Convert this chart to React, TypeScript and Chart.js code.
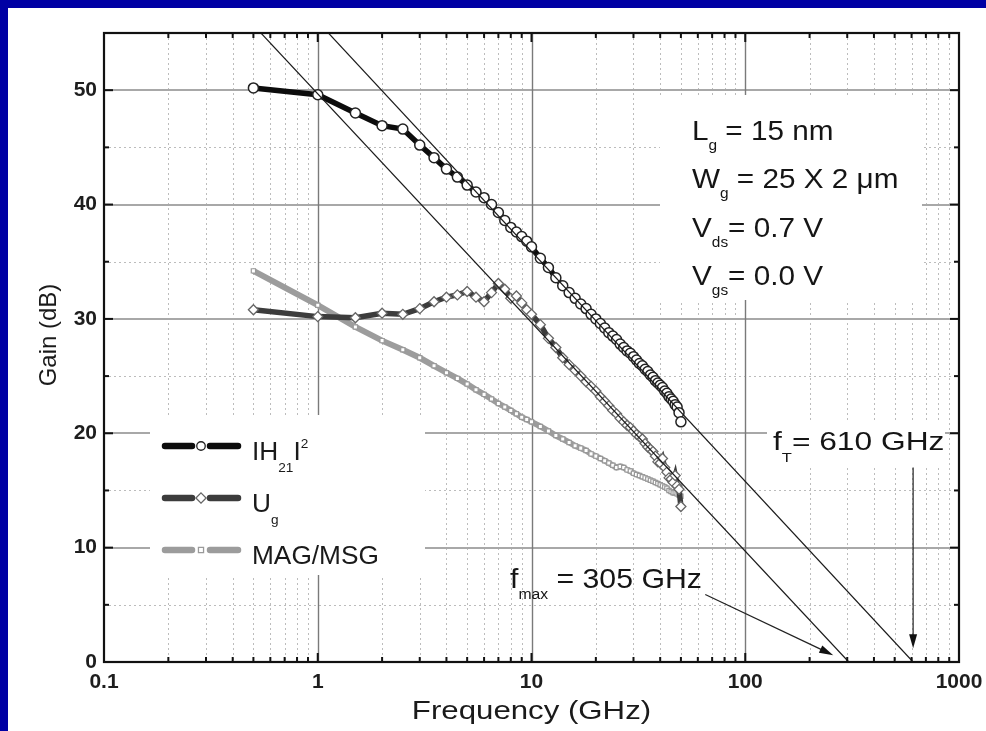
import React, { useEffect, useRef } from 'react';
import { Chart, registerables } from 'chart.js';

Chart.register(...registerables);

// ---------------- data ----------------
const frequencies = [
  0.5, 1, 1.5, 2, 2.5, 3, 3.5, 4, 4.5, 5, 5.5, 6, 6.5, 7, 7.5, 8, 8.5, 9, 9.5, 10,
  11, 12, 13, 14, 15, 16, 17, 18, 19, 20, 21, 22, 23, 24, 25, 26, 27, 28, 29, 30,
  31, 32, 33, 34, 35, 36, 37, 38, 39, 40, 41, 42, 43, 44, 45, 46, 47, 48, 49, 50,
];

const h21 = [
  50.2, 49.6, 48.0, 46.9, 46.6, 45.2, 44.1, 43.1, 42.4, 41.7, 41.1, 40.6, 40.0, 39.3, 38.6, 38.0, 37.6, 37.2, 36.8, 36.3,
  35.3, 34.5, 33.6, 32.9, 32.3, 31.8, 31.3, 30.9, 30.4, 30.0, 29.6, 29.2, 28.8, 28.5, 28.2, 27.8, 27.5, 27.2, 27.0, 26.7,
  26.4, 26.1, 25.9, 25.6, 25.4, 25.1, 24.9, 24.6, 24.4, 24.2, 24.0, 23.7, 23.5, 23.2, 23.0, 22.8, 22.5, 22.3, 21.8, 21.0,
];

const ug = [
  30.8, 30.2, 30.1, 30.5, 30.4, 30.9, 31.5, 31.9, 32.1, 32.4, 31.9, 31.5, 32.3, 33.1, 32.6, 31.8, 32.0, 31.4, 30.8, 30.4,
  29.5, 28.3, 27.5, 26.6, 26.0, 25.5, 25.0, 24.5, 24.1, 23.7, 23.2, 22.8, 22.4, 22.0, 21.7, 21.3, 21.0, 20.7, 20.5, 20.2,
  19.9, 19.7, 19.5, 19.1, 18.8, 18.6, 18.4, 18.0, 17.5, 17.4, 17.8, 17.0, 16.6, 16.1, 16.0, 15.7, 16.3, 15.4, 15.1, 13.6,
];

const mag = [
  34.2, 31.2, 29.3, 28.1, 27.3, 26.6, 25.9, 25.3, 24.8, 24.3, 23.8, 23.4, 23.0, 22.6, 22.3, 22.0, 21.7, 21.4, 21.2, 21.0,
  20.6, 20.2, 19.8, 19.5, 19.2, 18.9, 18.7, 18.5, 18.2, 18.0, 17.8, 17.6, 17.4, 17.2, 17.0, 17.1, 17.0, 16.8, 16.7, 16.5,
  16.4, 16.3, 16.2, 16.1, 16.0, 15.9, 15.8, 15.7, 15.6, 15.5, 15.4, 15.3, 15.2, 15.0, 14.9, 14.8, 14.8, 14.7, 14.6, 14.5,
];

// -20 dB/decade extrapolation lines
const ftLineX = [1, 610];
const ftLineY = [56.0, 0];
const fmaxLineX = [0.5, 305];
const fmaxLineY = [55.7, 0];

// arrows [from, to] in data coordinates (GHz, dB)
const fmaxArrowX = [65, 258];
const fmaxArrowY = [5.9, 0.6];
const ftArrowX = [610, 610];
const ftArrowY = [17.0, 1.2];

const xTickValues = [0.1, 1, 10, 100, 1000];
const yTickValues = [0, 10, 20, 30, 40, 50];
const xMinorDecades = [0.1, 1, 10, 100];
const xMinorMultipliers = [2, 3, 4, 5, 6, 7, 8, 9];
const xMajorGrid = [1, 10, 100];
const yMajorGrid = [10, 20, 30, 40, 50];
const yMinorGrid = [5, 15, 25, 35, 45];

const seriesLabels = ['|H21|²', 'Ug', 'MAG/MSG'];
const xTitle = 'Frequency (GHz)';
const yTitle = 'Gain (dB)';

type Part = { t: string; k?: 'sub' | 'sup' };

const legendTexts: Part[][] = [
  [{ t: 'IH' }, { t: '21', k: 'sub' }, { t: 'I' }, { t: '2', k: 'sup' }],
  [{ t: 'U' }, { t: 'g', k: 'sub' }],
  [{ t: 'MAG/MSG' }],
];

const deviceTexts: Part[][] = [
  [{ t: 'L' }, { t: 'g', k: 'sub' }, { t: ' = 15 nm' }],
  [{ t: 'W' }, { t: 'g', k: 'sub' }, { t: ' = 25 X 2 μm' }],
  [{ t: 'V' }, { t: 'ds', k: 'sub' }, { t: '= 0.7 V' }],
  [{ t: 'V' }, { t: 'gs', k: 'sub' }, { t: '= 0.0 V' }],
];

const ftText: Part[] = [{ t: 'f' }, { t: 'T', k: 'sub' }, { t: '= 610 GHz' }];
const fmaxText: Part[] = [{ t: 'f' }, { t: 'max', k: 'sub' }, { t: ' = 305 GHz' }];

const FONT = '"Liberation Sans", Arial, Helvetica, sans-serif';

function drawRich(
  ctx: CanvasRenderingContext2D,
  parts: Part[],
  x: number,
  y: number,
  size: number,
  sx: number,
  color: string,
  subDy = 0.4,
) {
  ctx.save();
  ctx.translate(x, y);
  ctx.scale(sx, 1);
  ctx.fillStyle = color;
  ctx.textBaseline = 'alphabetic';
  ctx.textAlign = 'left';
  let cx = 0;
  for (const p of parts) {
    const s = p.k ? size * 0.52 : size;
    ctx.font = `${s}px ${FONT}`;
    const dy = p.k === 'sub' ? size * subDy : p.k === 'sup' ? -size * 0.5 : 0;
    ctx.fillText(p.t, cx, dy);
    cx += ctx.measureText(p.t).width;
  }
  ctx.restore();
}

function drawMarker(ctx: CanvasRenderingContext2D, style: string, x: number, y: number, r: number) {
  ctx.beginPath();
  if (style === 'circle') {
    ctx.arc(x, y, r, 0, Math.PI * 2);
  } else if (style === 'rectRot') {
    ctx.moveTo(x, y - r * 1.2);
    ctx.lineTo(x + r * 1.2, y);
    ctx.lineTo(x, y + r * 1.2);
    ctx.lineTo(x - r * 1.2, y);
    ctx.closePath();
  } else {
    ctx.rect(x - r, y - r, r * 2, r * 2);
  }
  ctx.fill();
  ctx.stroke();
}

function arrow(ctx: CanvasRenderingContext2D, x1: number, y1: number, x2: number, y2: number) {
  const ang = Math.atan2(y2 - y1, x2 - x1);
  const len = 14;
  const w = 4;
  ctx.beginPath();
  ctx.moveTo(x1, y1);
  ctx.lineTo(x2 - Math.cos(ang) * len * 0.8, y2 - Math.sin(ang) * len * 0.8);
  ctx.stroke();
  ctx.beginPath();
  ctx.moveTo(x2, y2);
  ctx.lineTo(x2 - Math.cos(ang) * len + Math.sin(ang) * w, y2 - Math.sin(ang) * len - Math.cos(ang) * w);
  ctx.lineTo(x2 - Math.cos(ang) * len - Math.sin(ang) * w, y2 - Math.sin(ang) * len + Math.cos(ang) * w);
  ctx.closePath();
  ctx.fill();
}

const paperPlugin = {
  id: 'paper',
  beforeDraw(chart: any) {
    const { ctx, width, height } = chart;
    ctx.save();
    ctx.fillStyle = '#ffffff';
    ctx.fillRect(0, 0, width, height);
    ctx.restore();
  },
  beforeDatasetsDraw(chart: any) {
    const { ctx, chartArea: a, scales } = chart;
    const xs = scales.x;
    const ys = scales.y;
    ctx.save();
    ctx.beginPath();
    ctx.rect(a.left, a.top, a.right - a.left, a.bottom - a.top);
    ctx.clip();

    // minor dotted grid
    ctx.strokeStyle = '#bcbcbc';
    ctx.lineWidth = 1;
    ctx.setLineDash([2, 3]);
    for (const d of xMinorDecades) {
      for (const m of xMinorMultipliers) {
        const px = Math.round(xs.getPixelForValue(d * m)) + 0.5;
        ctx.beginPath();
        ctx.moveTo(px, a.top);
        ctx.lineTo(px, a.bottom);
        ctx.stroke();
      }
    }
    for (const v of yMinorGrid) {
      const py = Math.round(ys.getPixelForValue(v)) + 0.5;
      ctx.beginPath();
      ctx.moveTo(a.left, py);
      ctx.lineTo(a.right, py);
      ctx.stroke();
    }
    // major solid grid
    ctx.setLineDash([]);
    ctx.strokeStyle = '#a8a8a8';
    ctx.lineWidth = 2;
    for (const v of yMajorGrid) {
      const py = Math.round(ys.getPixelForValue(v));
      ctx.beginPath();
      ctx.moveTo(a.left, py);
      ctx.lineTo(a.right, py);
      ctx.stroke();
    }
    ctx.strokeStyle = '#7a7a7a';
    ctx.lineWidth = 1.4;
    for (const v of xMajorGrid) {
      const px = Math.round(xs.getPixelForValue(v)) + 0.5;
      ctx.beginPath();
      ctx.moveTo(px, a.top);
      ctx.lineTo(px, a.bottom);
      ctx.stroke();
    }
    // white backgrounds of legend and text boxes
    ctx.fillStyle = '#ffffff';
    ctx.fillRect(142, 407, 275, 160);
    ctx.fillRect(652, 87, 262, 205);
    ctx.fillRect(759, 414, 178, 44);
    ctx.restore();
  },
  afterDatasetsDraw(chart: any) {
    const { ctx, chartArea: a, scales } = chart;
    const xs = scales.x;
    const ys = scales.y;
    ctx.save();

    // inward ticks
    ctx.strokeStyle = '#111';
    ctx.lineWidth = 2;
    const tick = (x1: number, y1: number, x2: number, y2: number) => {
      ctx.beginPath();
      ctx.moveTo(x1, y1);
      ctx.lineTo(x2, y2);
      ctx.stroke();
    };
    for (const d of xMinorDecades) {
      for (const m of xMinorMultipliers) {
        const px = xs.getPixelForValue(d * m);
        tick(px, a.bottom, px, a.bottom - 5);
        tick(px, a.top, px, a.top + 5);
      }
    }
    for (const v of xMajorGrid) {
      const px = xs.getPixelForValue(v);
      tick(px, a.bottom, px, a.bottom - 9);
      tick(px, a.top, px, a.top + 9);
    }
    for (const v of yMinorGrid) {
      const py = ys.getPixelForValue(v);
      tick(a.left, py, a.left + 5, py);
      tick(a.right, py, a.right - 5, py);
    }
    for (const v of yMajorGrid) {
      const py = ys.getPixelForValue(v);
      tick(a.left, py, a.left + 9, py);
      tick(a.right, py, a.right - 9, py);
    }
    // frame
    ctx.lineWidth = 2.2;
    ctx.strokeRect(a.left, a.top, a.right - a.left, a.bottom - a.top);

    // arrows
    ctx.strokeStyle = '#222';
    ctx.fillStyle = '#111';
    ctx.lineWidth = 1.2;
    arrow(
      ctx,
      xs.getPixelForValue(fmaxArrowX[0]), ys.getPixelForValue(fmaxArrowY[0]),
      xs.getPixelForValue(fmaxArrowX[1]), ys.getPixelForValue(fmaxArrowY[1]),
    );
    arrow(
      ctx,
      xs.getPixelForValue(ftArrowX[0]), ys.getPixelForValue(ftArrowY[0]),
      xs.getPixelForValue(ftArrowX[1]), ys.getPixelForValue(ftArrowY[1]),
    );

    // annotations
    drawRich(ctx, ftText, 765, 442, 26, 1.22, '#151515', 0.46);
    drawRich(ctx, fmaxText, 502, 580, 28, 1.08, '#151515', 0.38);
    const rowY = [132, 180, 229, 277];
    deviceTexts.forEach((parts, i) => drawRich(ctx, parts, 684, rowY[i], 27, 1.1, '#151515', 0.36));

    // legend
    const legendRows = [438, 490, 542];
    const dsets = chart.data.datasets.slice(2);
    dsets.forEach((ds: any, i: number) => {
      const y = legendRows[i];
      ctx.strokeStyle = ds.borderColor;
      ctx.lineWidth = 6.5;
      ctx.lineCap = 'round';
      ctx.beginPath();
      ctx.moveTo(157, y);
      ctx.lineTo(184, y);
      ctx.moveTo(202, y);
      ctx.lineTo(230, y);
      ctx.stroke();
      ctx.lineCap = 'butt';
      ctx.fillStyle = '#fff';
      ctx.strokeStyle = ds.pointBorderColor;
      ctx.lineWidth = 1.3;
      drawMarker(ctx, ds.pointStyle, 193, y, ds.pointRadius * 0.85);
      drawRich(ctx, legendTexts[i], 244, y + 14, 25, 1.05, '#1a1a1a', 0.48);
    });

    // axis titles
    ctx.fillStyle = '#1a1a1a';
    ctx.textAlign = 'center';
    ctx.textBaseline = 'alphabetic';
    ctx.save();
    ctx.translate(a.left + (a.right - a.left) / 2, 711);
    ctx.scale(1.2, 1);
    ctx.font = `26px ${FONT}`;
    ctx.fillText(xTitle, 0, 0);
    ctx.restore();

    ctx.save();
    ctx.translate(48, 327);
    ctx.rotate(-Math.PI / 2);
    ctx.font = `24px ${FONT}`;
    ctx.fillText(yTitle, 0, 0);
    ctx.restore();

    ctx.restore();
  },
};

export default function App() {
  const ref = useRef<HTMLCanvasElement | null>(null);

  useEffect(() => {
    document.body.style.margin = '0';
    document.body.style.overflow = 'hidden';
    document.body.style.background = '#0000a4';
    const canvas = ref.current;
    if (!canvas) return;

    const pts = (xsArr: number[], ysArr: number[]) => xsArr.map((x, i) => ({ x, y: ysArr[i] }));

    const chart = new Chart(canvas, {
      type: 'line',
      data: {
        datasets: [
          {
            label: 'fT extrapolation',
            data: pts(ftLineX, ftLineY),
            borderColor: '#1a1a1a',
            borderWidth: 1.2,
            pointRadius: 0,
            order: 0,
          },
          {
            label: 'fmax extrapolation',
            data: pts(fmaxLineX, fmaxLineY),
            borderColor: '#1a1a1a',
            borderWidth: 1.2,
            pointRadius: 0,
            order: 0,
          },
          {
            label: seriesLabels[0],
            data: pts(frequencies, h21),
            borderColor: '#0c0c0c',
            borderWidth: 5.5,
            pointStyle: 'circle',
            pointRadius: 5,
            pointBackgroundColor: '#ffffff',
            pointBorderColor: '#222222',
            pointBorderWidth: 1.5,
            order: 1,
          },
          {
            label: seriesLabels[1],
            data: pts(frequencies, ug),
            borderColor: '#3c3c3c',
            borderWidth: 5.5,
            pointStyle: 'rectRot',
            pointRadius: 5,
            pointBackgroundColor: '#ffffff',
            pointBorderColor: '#666666',
            pointBorderWidth: 1.3,
            order: 2,
          },
          {
            label: seriesLabels[2],
            data: pts(frequencies, mag),
            borderColor: '#9c9c9c',
            borderWidth: 6,
            pointStyle: 'rect',
            pointRadius: 3,
            pointBackgroundColor: '#ffffff',
            pointBorderColor: '#9a9a9a',
            pointBorderWidth: 1.2,
            order: 3,
          },
        ],
      },
      options: {
        animation: false,
        responsive: false,
        maintainAspectRatio: false,
        devicePixelRatio: 1,
        layout: { padding: { top: 25, right: 27, left: 0, bottom: 0 } },
        plugins: {
          legend: { display: false },
          tooltip: { enabled: false },
          title: { display: false },
        },
        elements: { line: { tension: 0 } },
        scales: {
          x: {
            type: 'logarithmic',
            min: 0.1,
            max: 1000,
            afterBuildTicks: (s: any) => {
              s.ticks = xTickValues.map((v) => ({ value: v }));
            },
            afterFit: (s: any) => {
              s.height = 69;
              s.paddingLeft = 0;
              s.paddingRight = 0;
            },
            ticks: {
              autoSkip: false,
              maxRotation: 0,
              padding: 8,
              color: '#1e1e1e',
              font: { family: FONT, size: 21, weight: 'bold' },
              callback: (v: any) => String(v),
            },
            grid: { display: false, drawTicks: false },
            border: { display: false },
          },
          y: {
            type: 'linear',
            min: 0,
            max: 55,
            afterBuildTicks: (s: any) => {
              s.ticks = yTickValues.map((v) => ({ value: v }));
            },
            afterFit: (s: any) => {
              s.width = 96;
              s.paddingTop = 0;
              s.paddingBottom = 0;
            },
            ticks: {
              padding: 7,
              color: '#1e1e1e',
              font: { family: FONT, size: 21, weight: 'bold' },
              callback: (v: any) => String(v),
            },
            grid: { display: false, drawTicks: false },
            border: { display: false },
          },
        },
      } as any,
      plugins: [paperPlugin],
    });

    return () => chart.destroy();
  }, []);

  return (
    <div style={{ paddingLeft: 8, paddingTop: 8 }}>
      <canvas ref={ref} width={978} height={723} style={{ display: 'block', width: 978, height: 723 }} />
    </div>
  );
}
